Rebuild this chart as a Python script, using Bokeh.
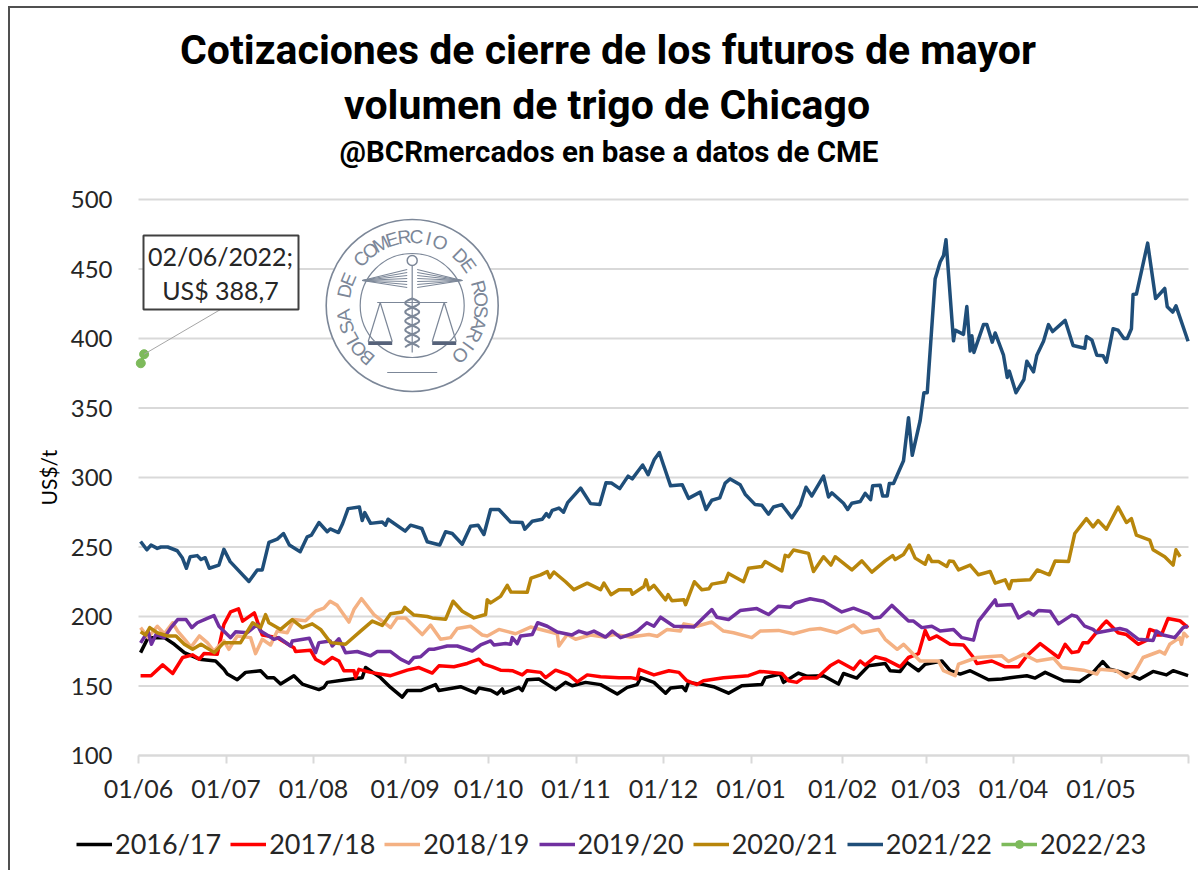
import math
from bokeh.core.properties import value
from bokeh.embed import file_html
from bokeh.models import FixedTicker, Label, Legend, LegendItem, Range1d
from bokeh.plotting import figure
from bokeh.resources import INLINE

TITLE_1 = "Cotizaciones de cierre de los futuros de mayor"
TITLE_2 = "volumen de trigo de Chicago"
SUBTITLE = "@BCRmercados en base a datos de CME"
CALLOUT_1 = "02/06/2022;"
CALLOUT_2 = "US$ 388,7"
Y_LABEL = "US$/t"
SEAL_TEXT = "BOLSA DE COMERCIO DE ROSARIO"

Y_TICKS = [100, 150, 200, 250, 300, 350, 400, 450, 500]
X_TICKS = [0, 21, 42, 64, 84, 105, 126, 147, 169, 189, 210, 231, 252]
X_LABELS = ["01/06", "01/07", "01/08", "01/09", "01/10", "01/11", "01/12",
            "01/01", "01/02", "01/03", "01/04", "01/05", ""]

x_1617 = [0.5, 2.3, 6.2, 8.6, 11, 14.6, 18.5, 20.5, 21.3, 23.7, 25.7, 29.3, 30.9, 32.5, 34.1, 37.3, 39.3, 43.3, 44.5, 45.3, 49.3, 53.7, 54.5, 58.1, 60.5, 63.3, 64.5, 67.7, 71.3, 72.1,
          77.3, 80.9, 81.7, 84.5, 86.1, 87.3, 87.7, 91.3, 92.1, 93.3, 96.1, 100.1, 102.5, 104.1, 107.3, 110.9, 114.9, 117.3, 119.7, 120.5, 123.7, 126.5, 127.7, 130.5, 131.3, 132, 135.6, 138, 141.6, 144.8, 149.6, 150.4, 154, 154.8, 158.4, 160.5,
          164.4, 168, 169.2, 172.4, 175.2, 179.2, 180.4, 182.8, 184.4, 187.2, 188.8, 192.8, 194.8, 197.2, 199.6, 204, 207.2, 209.2, 213.2, 215.2, 217.6, 222, 225.9, 229.1, 231.4, 233.1, 237.1, 240.3, 243.5, 246.7, 248.3, 251.9]
y_1617 = [174, 184.8, 184.8, 180, 174, 169.3, 168, 162, 158.6, 154.5, 159.8, 161, 156, 156, 151.4, 157.4, 151.4, 147.4, 149, 152.6, 154.3, 156, 163.3, 156, 149, 142, 146.7, 146.7, 151, 146.7,
          149.5, 145, 148.6, 147, 144.3, 147.9, 144.8, 149, 146.7, 154.5, 155, 147.4, 152.6, 150.2, 152.6, 151, 144.3, 149, 151, 156, 152.6, 144.8, 148.6, 149.5, 146.7, 152.6, 151, 149.5, 144.8, 150.2, 151, 156, 158.6, 152.6, 159.3, 157,
          157.4, 151.4, 159, 155.7, 164.5, 166.2, 161, 160.5, 167, 161, 165.7, 168, 161, 158.6, 161, 154.5, 155, 156, 157.4, 155.7, 159.8, 153.8, 153.3, 159.8, 167.6, 162, 159, 155, 160.5, 158, 161, 157.4]

x_1718 = [0.5, 3, 5.8, 8.2, 10.6, 13, 14.6, 15.7, 18.9, 20.5, 22.1, 24, 25, 27.8, 29.7, 33.3, 37.3, 37.7, 41.3, 42.5, 44.5, 46.5, 48.1, 49.3, 51.7, 52.1, 52.9, 55.7, 60.5, 64.5, 67.3, 70.5, 72.1,
          75.7, 78.9, 81.7, 82.9, 84.9, 86.9, 89.7, 92.1, 93.3, 96.5, 97.7, 100.1, 103.3, 105.3, 107.7, 110.9, 115.3, 118.1, 119.7, 120.2, 123.7, 127.3, 129.7, 131.6, 134, 135.6, 140.4, 146.4, 149.2, 154.4, 156, 158, 159.6, 162.8,
          166, 168, 171.6, 173.2, 174.4, 176.8, 179.2, 182.8, 184.8, 187.2, 188.8, 189.8, 191.6, 194.8, 198, 200.4, 201.2, 204.8, 208, 211.2, 213.2, 216.4, 220.8, 222.4, 224, 225.6, 226.7, 227.9, 231.5, 232.3, 235.1, 237.1, 240, 242, 242.7, 243.9, 244.3, 245.5, 247.1, 249.9, 251.9]
y_1718 = [157.4, 157.4, 165.2, 159, 170.5, 172.4, 169.3, 173.3, 172.8, 194.3, 203.3, 205.5, 196.7, 202.6, 186.7, 184.8, 177.6, 174.8, 175.7, 169.3, 166, 170.5, 168, 161, 161, 156.2, 162, 159.8, 157.4, 161.4, 163.3, 159.3, 164.5,
          163.8, 166.2, 169.3, 165.7, 163.8, 161.4, 161, 158, 161, 159.8, 156, 161.4, 158, 153, 158, 156.7, 156, 156, 155, 162, 158, 161, 159.8, 153.8, 151, 153.8, 156, 157.4, 160.5, 159, 153.8, 152.6, 156, 155.7,
          164.5, 168, 162, 168, 165, 171, 169.3, 163.8, 170.5, 173.3, 190, 183.6, 186, 180, 179.5, 170.5, 166.2, 168, 163.8, 163.8, 171.7, 180.5, 170.5, 180, 174, 174.8, 181.2, 181.2, 194.3, 196.7, 188.3, 187, 180, 183, 190.7, 189.5, 186.7, 186.7, 198.6, 197, 192]

x_1819 = [0.5, 2.3, 4.5, 6.2, 8.2, 9.4, 11.4, 12.6, 14.6, 16.5, 18.1, 20.5, 21.7, 23.7, 26.9, 28.1, 29.7, 31.7, 33.3, 35.7, 37.3, 40.1, 42.5, 44.5, 46, 47.7, 50.5, 51.7, 53.5, 56.5, 60.5, 62.1, 64.1, 68.1, 70.1, 72.5,
          74.9, 76.5, 79.7, 82.5, 83.7, 86.5, 90.5, 94.1, 100.5, 100.9, 102.9, 104.9, 108.5, 111.7, 114.1, 118.1, 122.5, 124.5, 126.9, 130, 130.9, 134, 137.6, 140.4, 142.8, 147.2, 149.2, 153.6, 157.2, 161.2,
          163.6, 167.6, 171.6, 173.6, 177.6, 179.2, 182.1, 183.6, 187.6, 192, 193.2, 196, 196.8, 201.2, 207.2, 208.8, 212.4, 215.6, 219.6, 221.6, 226.8, 230, 230.7, 234.7, 237.1, 239.1, 241.1, 245.1, 246.3, 247.5, 249.9, 250.3, 250.9, 251.9]
y_1819 = [192, 184.8, 193, 187.6, 195.5, 189.5, 182.4, 178, 186, 181.2, 175.2, 182.4, 176.4, 186, 184.8, 173.3, 183.6, 179.5, 189.5, 188.3, 197.8, 197, 203.8, 206, 211, 208, 196, 205, 212.8, 201.4, 192, 199, 199, 187, 193.8, 183.6,
          184.8, 191.4, 193, 186.7, 186, 190.7, 187.6, 192.4, 187.6, 178.8, 187, 183.6, 186.7, 185.2, 187, 185.2, 187, 185.8, 190.7, 189.5, 194.7, 193, 196, 189.5, 188.3, 184.8, 189.5, 190, 187.6, 190.7,
          191.4, 188.3, 193.8, 188.3, 190.7, 183.6, 176.4, 180, 168, 168, 161, 157.4, 165.7, 170.5, 171.7, 167.6, 172.8, 168, 170, 163.3, 161.4, 158.6, 162, 161, 156, 159.8, 170.5, 175, 173, 180, 184.8, 180, 188, 184.8]

x_1920 = [0.5, 2.3, 3.1, 4.2, 6.2, 7.8, 9.4, 11.4, 12.8, 14.1, 16.5, 18.1, 19.3, 22.1, 23.3, 26.1, 28.5, 29.3, 32.5, 33.7, 36.5, 36.9, 41, 42.5, 43.3, 46, 46.5, 48.1, 49.7, 52.5, 55.7, 57.3, 60.5, 62.9, 64.9, 66.1, 67.7, 69.7, 70.9, 72.5,
          74.1, 76.5, 80.1, 82.1, 84.5, 85.3, 88.1, 89.3, 89.7, 90.9, 91.7, 94.5, 95.8, 98.1, 100.5, 104, 105.7, 107.7, 109.3, 112.1, 113.7, 115.7, 118.5, 119.7, 122, 123.7, 125.3, 128.5, 133.3, 137.6, 138.8, 141.6, 144.4, 148.4, 151.2, 153.6, 156.4, 157.6, 161.2,
          164.4, 168.8, 171.6, 175.2, 176.4, 178, 180.8, 184.8, 186, 188, 190.4, 192.4, 195.6, 197.6, 200.4, 201.6, 205.6, 206, 209.6, 211.2, 213.6, 214.8, 216, 218.8, 220.8, 224, 225.2, 227.1, 229.1, 230, 235.5, 237.1, 240, 243.5, 244.3, 245.9, 248.7, 250.7, 251.9]
y_1920 = [181, 189.5, 180, 187, 184.8, 192, 197.8, 197.8, 192, 195.5, 198.6, 200.7, 193, 184.8, 189, 188.3, 194.3, 189.5, 183.6, 184.8, 178.8, 182.4, 184.3, 174, 181.2, 182.4, 178.8, 184, 174, 174.8, 171.7, 174.8, 174.8, 169.3, 166.4, 170.5, 171, 176.4, 176.4, 177.6,
          178.8, 178.8, 175.2, 179.5, 182.4, 179.5, 180.5, 180, 184.8, 180.5, 186, 187, 195.5, 193, 188.8, 186.7, 189.5, 187.6, 189.5, 185.2, 189.5, 184.8, 187.6, 189.5, 195.5, 193, 199.5, 193, 192.4, 205, 199.5, 197.8, 204.3, 205.7, 201.4, 207.4, 206.6, 209.7, 212.8,
          211, 203.3, 206, 201.9, 199, 199.5, 208, 196.7, 196.7, 192, 193, 189.5, 190.7, 184.8, 183, 196.7, 212, 208, 208.6, 199, 203.3, 201, 204.3, 203.8, 194.7, 201, 200, 193, 190.7, 188.3, 191.4, 190.2, 183.6, 182.8, 189.5, 186.7, 184.8, 192, 193]

x_2021 = [0.5, 1.7, 2.7, 4.5, 7, 9, 11, 13, 15, 18.2, 20.5, 24.5, 27.4, 29.3, 30.5, 31.3, 34.1, 36.9, 39.3, 41.7, 43.7, 46.1, 49.7, 53.3, 56.1, 58.5, 60.5, 63.3, 63.9, 66.1, 69.3, 70.5, 73.7, 75.5, 77.7,
          80.5, 83.3, 83.7, 84.5, 86.9, 88.5, 89.4, 93.3, 94.2, 96.5, 98.1, 98.7, 99.7, 102.5, 104.5, 107.7, 110.9, 111.7, 113.4, 115.3, 118.1, 118.5, 121.3, 121.8, 122.5, 123.7, 126.5, 127.1, 128, 130.9, 131.3, 133.4, 135.2, 136.9, 137.6, 140.8, 141.6, 145.2, 146.4, 149.6, 150.4, 154.4, 155.2, 156, 157.2, 160.8,
          162, 164.4, 166.2, 167.2, 171.2, 173.6, 176, 179.2, 181, 181.6, 183.6, 185, 186.4, 188.8, 189.6, 190.4, 192, 194, 194.6, 195.6, 196.8, 199.6, 201.6, 204.4, 205.6, 208, 209, 209.6, 214, 215.7, 218.6, 220, 223.2, 224.7, 227.5, 229.1, 230.3, 232.3, 235.1, 237.1, 238.3, 239.5, 242.7, 243.5, 246.3, 248.3, 249, 250]
y_2021 = [189, 186.7, 192, 188.3, 186, 186, 180, 176.4, 180, 174, 181.2, 181.2, 195.5, 192, 201.4, 195.5, 190.7, 197.8, 192, 194.7, 190.7, 181.2, 180, 189.5, 196.7, 193.6, 202, 203.3, 206.6, 201, 200, 199, 198, 211, 203.8,
          199, 201.4, 212, 209.8, 214.5, 222.4, 217.6, 217.4, 227.6, 230, 232.3, 228, 232, 225, 219.3, 224, 219.3, 224, 215.7, 219.3, 219.3, 216, 221.6, 226.4, 219.3, 222.4, 212, 215.7, 211.4, 212, 208.5, 225, 219.3, 220, 223.3, 225, 231, 225, 234.7, 236, 239.5, 232.8, 244, 243, 247.8, 245.4,
          232.4, 243, 237, 243, 233.5, 240, 231.9, 240, 243.8, 241, 244.6, 251.4, 242, 237.6, 243.8, 239.5, 239.5, 236, 240, 239.5, 233.5, 237, 230, 232.4, 224, 226.4, 220, 225.7, 226.4, 233.5, 230, 240, 239.5, 259.7, 270.4, 264.5, 269, 262.8, 278.8, 267.6, 270.4, 258.5, 255, 248, 243, 237, 248, 243]

x_2122 = [0.5, 2, 3, 4.5, 5.4, 7, 9.3, 10.5, 11.5, 12.4, 14.1, 15, 16, 17, 19.3, 20.5, 22, 26.5, 28.5, 29.7, 31.3, 33.3, 34.8, 36.2, 38.8, 40.5, 41.5, 43.3, 45.3, 46, 48, 49, 50.3, 53, 53.7, 54.3, 55.7, 58.5, 59.3, 59.9, 64, 65.3, 68, 69.3, 72.3,
          73.7, 75.3, 77.7, 79.7, 81.5, 82.9, 84.5, 86.5, 89.3, 92.1, 92.7, 94.5, 96.9, 97.9, 98.5, 99.3, 100.9, 102, 103, 106.1, 108.5, 110.7, 112.2, 113.5, 115.5, 117.5, 118.5, 120, 121, 122.3, 123.8, 125, 126, 127.7, 130.5, 132, 134.8, 136.2, 137.6, 139.5, 140.8, 142, 144.4, 145.6, 148, 149.6, 151.2, 152.4, 154.4, 156.8, 158.8,
          160.2, 161.6, 164.4, 165.6, 166.4, 169.2, 170.2, 171.2, 173.2, 174.4, 175.7, 176.2, 178, 178.6, 179.7, 180.2, 181.2, 183.6, 184.8, 185.7, 187.6, 188.5, 189.3, 191.2, 192.4, 193.2, 193.8, 195.6, 196, 198, 198.8, 199.6, 200, 200.5, 202.8, 203.6, 204.9, 205.6, 207.6, 208.5, 209, 210.6, 212.5, 213.2, 214.8, 215.6, 217.2, 218.4, 219.4, 222.4, 224.3, 227.1, 227.5, 228.8, 230, 231.5, 232.3, 233.9, 235.1, 236.5, 237.3, 238.3, 238.7, 239.5, 242.2, 244.1, 246.3, 246.9, 248.2, 249, 251.9]
y_2122 = [254, 248, 251.4, 249, 250, 250, 247.3, 242.3, 234.7, 243, 243.8, 241, 242.3, 234.7, 237, 248.3, 239.5, 225.2, 233.5, 233.5, 253.3, 255.7, 259.7, 251.4, 246.6, 257.3, 258.5, 267.6, 261, 263, 260.4, 266.9, 277.6, 278.8, 269, 274.7, 267, 268, 265.7, 270, 261.4, 265.7, 263.3, 253.8, 251.4,
          261, 259.7, 252, 264.9, 265.7, 259, 277, 277, 268, 267.6, 262.8, 268.5, 270, 274, 271.6, 276.4, 278, 275, 281.9, 292.4, 281.2, 280.5, 296.2, 296, 292, 301, 299, 305, 309, 302, 313, 318, 309, 294, 294.8, 285, 289.5, 277, 283.6, 285.3, 296, 299, 294.8, 288, 280.5, 280, 273.6, 278.8, 280.5, 271, 280,
          293, 286.7, 301, 286, 289, 281.5, 277, 281.5, 282.7, 288.6, 284, 294, 294.5, 286.7, 286.7, 295.7, 295.7, 312, 343, 316, 341, 361, 361, 443, 455, 459.6, 471, 398.3, 406, 403, 423, 391, 402, 390, 410, 410, 397.4, 404, 388, 372, 376.5, 361, 370.5, 383.6, 376, 388, 398, 410, 405, 413, 395, 393, 401.4, 399, 388, 387.6, 383, 407, 406, 400, 400, 407, 431.6, 432, 468.6, 428.7, 436, 422.8, 419, 423.5, 398]

x_2223 = [0.55, 1.35]
y_2223 = [382.2, 388.7]

NAMES = ["2016/17", "2017/18", "2018/19", "2019/20", "2020/21", "2021/22", "2022/23"]
COLORS = ["#000000", "#ff0000", "#f4b183", "#7030a0", "#b8860b", "#1f4e79", "#7dba5b"]

SANS = "Lato"
TITLE_FONT = "Roboto"
OX, OY = 10, 8                      # where the canvas starts in the window
W, H = 1190, 864
LEFT, RIGHT, TOP, BOTTOM = 138, 1188, 199, 755

def X(px):
    return (px - LEFT) * 252 / (RIGHT - LEFT)

def Y(py):
    return 100 + (BOTTOM - py) * 400 / (BOTTOM - TOP)

# The frame fills the whole canvas, so that titles and legend can lie inside it;
# the axes are pinned to the data origin.
p = figure(width=W, height=H, output_backend="svg", toolbar_location=None, title=None,
           x_range=Range1d(X(OX), X(OX + W)), y_range=Range1d(Y(OY + H), Y(OY)),
           min_border=0, margin=(6, 0, 0, 8),
           styles={"border-left": "2px solid #505050", "border-top": "2px solid #505050"},
           background_fill_color="white", border_fill_color="white")
p.outline_line_color = None
p.xgrid.grid_line_color = None
p.ygrid.grid_line_color = None
p.segment([0] * len(Y_TICKS), Y_TICKS, [252] * len(Y_TICKS), Y_TICKS,
          line_color="#d9d9d9", line_width=2, level="underlay")

p.yaxis.fixed_location = 0
p.yaxis.bounds = (100, 500)
p.yaxis.ticker = FixedTicker(ticks=Y_TICKS)
p.yaxis.axis_line_color = None
p.yaxis.major_tick_line_color = None
p.yaxis.minor_tick_line_color = None
p.yaxis.major_label_text_font = SANS
p.yaxis.major_label_text_font_size = "24px"
p.yaxis.major_label_text_color = "#262626"
p.yaxis.major_label_standoff = 20
p.yaxis.axis_label = Y_LABEL
p.yaxis.axis_label_text_font = SANS
p.yaxis.axis_label_text_font_style = "normal"
p.yaxis.axis_label_text_font_size = "21px"
p.yaxis.axis_label_text_color = "#000000"
p.yaxis.axis_label_standoff = 7

p.xaxis.fixed_location = 100
p.xaxis.bounds = (0, 252)
p.xaxis.ticker = FixedTicker(ticks=X_TICKS)
p.xaxis.major_label_overrides = {t: l for t, l in zip(X_TICKS, X_LABELS)}
p.xaxis.axis_line_color = "#d9d9d9"
p.xaxis.axis_line_width = 2
p.xaxis.major_tick_line_color = "#d9d9d9"
p.xaxis.major_tick_line_width = 2
p.xaxis.major_tick_in = 0
p.xaxis.major_tick_out = 8
p.xaxis.minor_tick_line_color = None
p.xaxis.major_label_text_font = SANS
p.xaxis.major_label_text_font_size = "25px"
p.xaxis.major_label_text_color = "#262626"
p.xaxis.major_label_standoff = 9

# Seal of the Bolsa de Comercio
SEAL = "#7c8798"
cx, cy = 411.7, 305
p.scatter([X(cx)], [Y(cy)], marker="circle", size=172, fill_color="white",
          line_color=SEAL, line_width=1.6)
p.scatter([X(cx)], [Y(cy)], marker="circle", size=104, fill_color=None,
          line_color=SEAL, line_width=1.2)
n = len(SEAL_TEXT)
angs = [math.radians(229 - i * 275 / (n - 1)) for i in range(n)]
p.text([X(cx + 69 * math.cos(a)) for a in angs], [Y(cy - 69 * math.sin(a)) for a in angs],
       text=list(SEAL_TEXT), angle=[a - math.pi / 2 for a in angs],
       text_font=value("Liberation Sans"), text_font_size="19px", text_color=SEAL,
       text_align="center", text_baseline="middle")
seal_lines = [
    [(cx, 255), (cx, 352)],
    [(cx - 35, 302), (cx + 35, 302)],
    [(cx - 32, 302), (cx - 44, 341), (cx - 20, 341), (cx - 32, 302)],
    [(cx + 32, 302), (cx + 20, 341), (cx + 44, 341), (cx + 32, 302)],
    [(cx - 25, 372), (cx + 25, 372)],
]
for side in (-1, 1):
    for end_y in (269, 272, 275, 278, 281, 284, 287):
        seal_lines.append([(cx + side * 50, 280), (cx + side * 5, end_y)])
p.multi_line([[X(a) for a, _ in s] for s in seal_lines], [[Y(b) for _, b in s] for s in seal_lines],
             line_color=SEAL, line_width=1.2)
for side in (-1, 1):
    p.line([X(cx + side * 44), X(cx + side * 20)], [Y(343), Y(343)], line_color="#56627a", line_width=3)
for off in (0, math.pi):
    pts = [(cx + 7 * math.sin(off + t * 0.35), 298 + t * 1.0) for t in range(0, 50)]
    p.line([X(a) for a, _ in pts], [Y(b) for _, b in pts], line_color=SEAL, line_width=2)
p.scatter([X(cx)], [Y(260)], marker="circle", size=10, fill_color="white", line_color=SEAL, line_width=1.5)

# Series
xs = [x_1617, x_1718, x_1819, x_1920, x_2021, x_2122, x_2223]
ys = [y_1617, y_1718, y_1819, y_1920, y_2021, y_2122, y_2223]
items = []
for i, name in enumerate(NAMES):
    rends = [p.line(xs[i], ys[i], line_color=COLORS[i], line_width=3.5, line_join="round")]
    if name == "2022/23":
        rends.append(p.scatter(xs[i], ys[i], marker="circle", size=9, fill_color=COLORS[i],
                               line_color=COLORS[i]))
    items.append(LegendItem(label=name, renderers=rends))

legend = Legend(items=items, orientation="horizontal", location=(66, 12),
                border_line_color=None, background_fill_alpha=0, margin=0, padding=0,
                glyph_width=36, glyph_height=20, label_standoff=3, spacing=9,
                label_text_font=SANS, label_text_font_size="27px", label_text_color="#262626")
p.add_layout(legend)

# Callout
p.segment([X(220)], [Y(309)], [x_2223[1]], [y_2223[1]], line_color="#a6a6a6", line_width=1)
p.quad(left=[X(143)], right=[X(298)], top=[Y(235)], bottom=[Y(309)],
       fill_color="white", line_color="#404040", line_width=2)
for txt, py in ((CALLOUT_1, 255), (CALLOUT_2, 289)):
    p.add_layout(Label(x=X(220), y=Y(py), text=txt, text_font=SANS, text_font_size="25px",
                       text_color="#262626", text_align="center", text_baseline="middle"))

# Titles
for txt, py, size, cxt in ((TITLE_1, 49, "41px", 607.5), (TITLE_2, 104, "41px", 606.5), (SUBTITLE, 151, "29.5px", 608.5)):
    p.add_layout(Label(x=X(cxt), y=Y(py), text=txt, text_font=TITLE_FONT,
                       text_font_style="bold", text_font_size=size, text_color="#000000",
                       text_align="center", text_baseline="middle"))

open("out.html", "w").write(file_html(p, INLINE))
